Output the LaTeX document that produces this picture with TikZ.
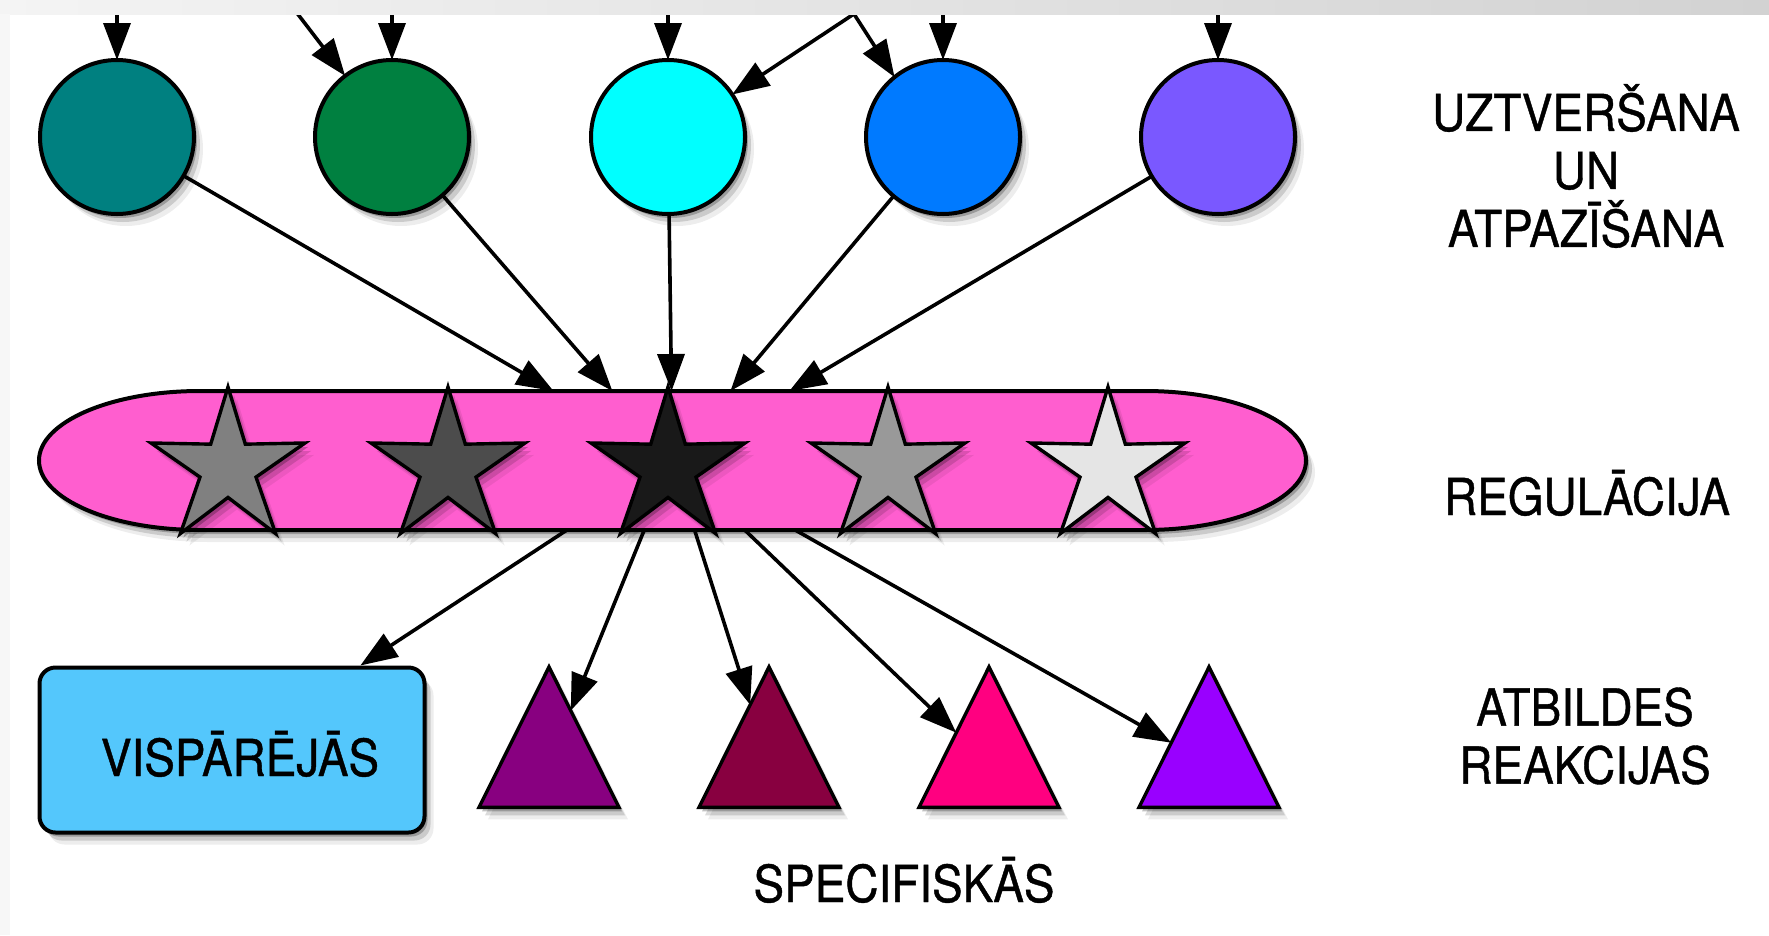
\documentclass[tikz,border=0pt]{standalone}
\usepackage{fontspec}
\setmainfont{TeX Gyre Heros}[FakeStretch=0.9,FakeBold=0.8]
\usetikzlibrary{arrows.meta,shapes.geometric,shadows}
\definecolor{cTeal}{RGB}{0,128,128}
\definecolor{cGreen}{RGB}{0,128,64}
\definecolor{cCyan}{RGB}{0,255,255}
\definecolor{cBlue}{RGB}{0,122,255}
\definecolor{cViolet}{RGB}{122,88,255}
\definecolor{cPink}{RGB}{255,94,207}
\definecolor{cSky}{RGB}{84,199,252}
\definecolor{cT1}{RGB}{136,0,128}
\definecolor{cT2}{RGB}{136,0,64}
\definecolor{cT3}{RGB}{255,0,128}
\definecolor{cT4}{RGB}{153,0,255}
\definecolor{barL}{RGB}{244,244,244}
\definecolor{barR}{RGB}{210,210,210}
\begin{document}
\begin{tikzpicture}[x=1pt,y=-1pt,
  softsh/.style={drop shadow={opacity=0.24,shadow xshift=3pt,shadow yshift=-4pt,fill=black},
                 drop shadow={opacity=0.14,shadow xshift=6pt,shadow yshift=-8pt,fill=black},
                 drop shadow={opacity=0.07,shadow xshift=9pt,shadow yshift=-12pt,fill=black}},
  circ/.style={circle, draw=black, line width=4pt, minimum size=154pt, inner sep=0pt, outer sep=0pt, softsh},
  stardot/.style={star, star points=5, star point ratio=2.75, minimum size=162pt, inner sep=0pt, outer sep=0pt, draw=black, line width=3.4pt, softsh},
  tri/.style={isosceles triangle, isosceles triangle apex angle=53, shape border rotate=90, minimum width=140pt, minimum height=140pt, inner sep=0pt, outer sep=0pt, draw=black, line width=3.4pt, anchor=apex, softsh},
  conn/.style={line width=3.6pt, -{Triangle[length=37pt,width=27pt]}},
  lbl/.style={font=\fontsize{51}{58}\selectfont, inner sep=0pt, align=center},
  rectbox/.style={rectangle, rounded corners=16pt, draw=black, line width=4pt, fill=cSky, minimum width=385pt, minimum height=165pt, softsh}
]
\useasboundingbox (0,0) rectangle (1769,935);
\fill[white] (0,0) rectangle (1769,935);

% regulation stadium (shape drawn directly, node for connections)
\node[rectangle, minimum width=1267pt, minimum height=139pt, inner sep=0pt, outer sep=0pt] (reg) at (672.5,460.5) {};
\foreach \dx/\dy/\op in {3/4/0.24, 6/8/0.14, 9/12/0.07}{
  \fill[black, opacity=\op, xshift=\dx pt, yshift=-\dy pt]
    (200,391) -- (1145,391) arc[start angle=90,end angle=-90,x radius=161pt,y radius=69.5pt]
    -- (200,530) arc[start angle=270,end angle=90,x radius=161pt,y radius=69.5pt] -- cycle;
}
\draw[line width=4pt, fill=cPink]
    (200,391) -- (1145,391) arc[start angle=90,end angle=-90,x radius=161pt,y radius=69.5pt]
    -- (200,530) arc[start angle=270,end angle=90,x radius=161pt,y radius=69.5pt] -- cycle;

% stars
\node[stardot, fill=black!50] (st1) at (228,468) {};
\node[stardot, fill=black!70] (st2) at (448,468) {};
\node[stardot, fill=black!90] (st3) at (668,468) {};
\node[stardot, fill=black!40] (st4) at (888,468) {};
\node[stardot, fill=black!10] (st5) at (1108,468) {};

% circles
\node[circ, fill=cTeal] (c1) at (117,137) {};
\node[circ, fill=cGreen] (c2) at (392,137) {};
\node[circ, fill=cCyan] (c3) at (668,137) {};
\node[circ, fill=cBlue] (c4) at (943,137) {};
\node[circ, fill=cViolet] (c5) at (1218,137) {};

% responses
\node[rectbox] (vis) at (232,750) {};
\node[lbl, anchor=base] (vislbl) at (240,776) {VISPĀRĒJĀS};
\node[tri, fill=cT1] (t1) at (549,667) {};
\node[tri, fill=cT2] (t2) at (769,667) {};
\node[tri, fill=cT3] (t3) at (989,667) {};
\node[tri, fill=cT4] (t4) at (1209,667) {};

% labels
\node[lbl] (l1) at (1586,166) {UZTVERŠANA\\UN\\ATPAZĪŠANA};
\node[lbl, anchor=base] (l2) at (1587,515) {REGULĀCIJA};
\node[lbl] (l3) at (1585,736) {ATBILDES\\REAKCIJAS};
\node[lbl, anchor=base] (l4) at (904,902) {SPECIFISKĀS};

% incoming arrows from above
\coordinate (s1) at (117,0);
\coordinate (s2) at (287,0);
\coordinate (s3) at (392,0);
\coordinate (s4) at (668,0);
\coordinate (s5) at (875,0);
\coordinate (s6) at (845,0);
\coordinate (s7) at (943,0);
\coordinate (s8) at (1218,0);
\draw[conn] (s1) -- (c1);
\draw[conn] (s2) -- (c2);
\draw[conn] (s3) -- (c2);
\draw[conn] (s4) -- (c3);
\draw[conn] (s5) -- (c3);
\draw[conn] (s6) -- (c4.129);
\draw[conn] (s7) -- (c4);
\draw[conn] (s8) -- (c5);

% circles to regulation
\draw[conn] (c1) -- (reg);
\draw[conn] (c2) -- (reg);
\draw[conn] (c3) -- (reg);
\draw[conn] (c4) -- (reg);
\draw[conn] (c5) -- (reg);

% regulation to responses
\draw[conn] (reg) -- (vis);
\draw[conn] (reg) -- (t1);
\draw[conn] (reg) -- (t2);
\draw[conn] (reg) -- (t3);
\draw[conn] (reg) -- (t4);

% window chrome
\shade[left color=barL, right color=barR] (0,0) rectangle (1769,14);
\fill[black!3] (0,14) rectangle (10,935);
\end{tikzpicture}
\end{document}
